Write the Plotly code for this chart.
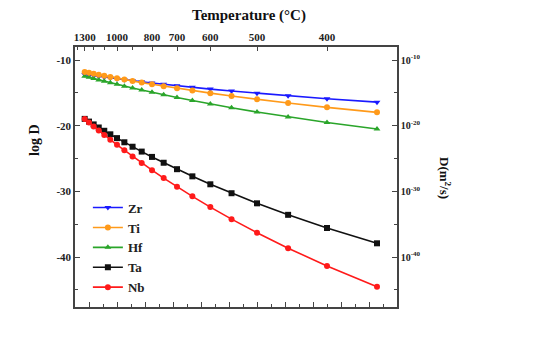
import plotly.graph_objects as go

# Annealing temperatures (°C), one point per 50 °C step
temps_c = [1300, 1250, 1200, 1150, 1100, 1050, 1000, 950, 900, 850,
           800, 750, 700, 650, 600, 550, 500, 450, 400, 350]

# log10 of diffusion coefficient D (m^2/s) for each element
zr = [-12.20, -12.29, -12.39, -12.49, -12.60, -12.72, -12.85, -12.99, -13.14, -13.30,
      -13.48, -13.68, -13.90, -14.14, -14.41, -14.71, -15.05, -15.43, -15.88, -16.40]
ti = [-11.80, -11.93, -12.07, -12.23, -12.39, -12.56, -12.75, -12.95, -13.18, -13.42,
      -13.68, -13.97, -14.29, -14.64, -15.03, -15.47, -15.97, -16.54, -17.19, -17.95]
hf = [-12.45, -12.62, -12.81, -13.01, -13.22, -13.45, -13.69, -13.96, -14.25, -14.56,
      -14.91, -15.29, -15.70, -16.16, -16.68, -17.26, -17.91, -18.65, -19.50, -20.49]
ta = [-18.95, -19.36, -19.79, -20.26, -20.76, -21.30, -21.88, -22.51, -23.19, -23.93,
      -24.74, -25.63, -26.61, -27.70, -28.91, -30.27, -31.81, -33.56, -35.57, -37.90]
nb = [-18.95, -19.50, -20.09, -20.72, -21.39, -22.12, -22.90, -23.74, -24.66, -25.66,
      -26.76, -27.96, -29.28, -30.75, -32.38, -34.22, -36.29, -38.64, -41.35, -44.50]

# Top axis: labeled temperature ticks and unlabeled in-between ticks (°C)
top_temps = [1300, 1000, 800, 700, 600, 500, 400]
top_labels = ["1300", "1000", "800", "700", "600", "500", "400"]
top_minor_temps = [1400, 1200, 1100, 900]

# Right axis: D in m^2/s at the same positions as log D
right_vals = [-10, -20, -30, -40]
right_labels = ["10<sup>-10</sup>", "10<sup>-20</sup>", "10<sup>-30</sup>", "10<sup>-40</sup>"]

# name, values, colour, marker, axes pair (the twin axes share identical ranges)
series = [
    ("Zr", zr, "#1a1aff", "triangle-down", ("x", "y")),
    ("Ti", ti, "#ff9a1a", "circle", ("x2", "y2")),
    ("Hf", hf, "#2aa52a", "triangle-up", ("x", "y")),
    ("Ta", ta, "#111111", "square", ("x", "y")),
    ("Nb", nb, "#ff1a1a", "circle", ("x", "y")),
]

x_inv = [10000.0 / t for t in temps_c]

FONT = "Liberation Serif"
AX = "#444444"

fig = go.Figure()
for name, vals, color, sym, (xa, ya) in series:
    fig.add_trace(go.Scatter(
        x=x_inv, y=vals, name=name, mode="lines+markers",
        xaxis=xa, yaxis=ya,
        line=dict(color=color, width=1.6),
        marker=dict(symbol=sym, size=6, color=color),
    ))

xr = [7, 30]
yr = [-47.6, -8.0]

fig.update_layout(
    width=536, height=344,
    margin=dict(l=75, r=139, t=47, b=37),
    paper_bgcolor="white", plot_bgcolor="white",
    font=dict(family=FONT, color="#111111"),
    showlegend=True,
    legend=dict(
        x=0.04, y=0.44, xanchor="left", yanchor="top",
        bgcolor="rgba(0,0,0,0)", borderwidth=0,
        font=dict(family=FONT, size=13, color="#222222", weight="bold"),
        itemwidth=30, tracegroupgap=0,
    ),
    xaxis=dict(
        range=xr, showgrid=False, zeroline=False,
        showline=True, linecolor=AX, linewidth=1.5,
        ticks="inside", ticklen=5, tickcolor=AX, dtick=2, tick0=0,
        showticklabels=False,
        minor=dict(ticks="inside", ticklen=3, dtick=1, tickcolor=AX),
    ),
    xaxis2=dict(
        range=xr, overlaying="x", side="top", anchor="y",
        showgrid=False, zeroline=False,
        showline=True, linecolor=AX, linewidth=1.5,
        ticks="inside", ticklen=4, tickcolor=AX,
        tickmode="array",
        tickvals=[10000.0 / t for t in top_temps],
        ticktext=top_labels,
        tickfont=dict(family=FONT, size=11, color="#222222", weight="bold"),
        minor=dict(ticks="inside", ticklen=3, tickcolor=AX, tickmode="array",
                   tickvals=[10000.0 / t for t in top_minor_temps]),
    ),
    yaxis=dict(
        range=yr, showgrid=False, zeroline=False,
        showline=True, linecolor=AX, linewidth=1.5,
        ticks="inside", ticklen=5, tickcolor=AX,
        tickmode="array", tickvals=[-10, -20, -30, -40],
        ticktext=["-10", "-20", "-30", "-40"],
        tickfont=dict(family=FONT, size=11, color="#222222", weight="bold"),
        minor=dict(ticks="inside", ticklen=3, tickcolor=AX,
                   tickmode="array", tickvals=[-15, -25, -35, -45]),
    ),
    yaxis2=dict(
        range=yr, overlaying="y", side="right", anchor="x",
        showgrid=False, zeroline=False,
        showline=True, linecolor=AX, linewidth=1.5,
        ticks="inside", ticklen=5, tickcolor=AX,
        tickmode="array", tickvals=right_vals, ticktext=right_labels,
        tickfont=dict(family=FONT, size=10, color="#222222", weight="bold"),
        minor=dict(ticks="inside", ticklen=3, tickcolor=AX,
                   tickmode="array", tickvals=[-15, -25, -35, -45]),
    ),
)

# Axis titles placed by pixel position, converted to paper coordinates
pw = 536 - 75 - 139
ph = 344 - 47 - 37


def px_to_paper(px, py):
    return (px - 75) / pw, (344 - 37 - py) / ph


titles = [
    ("<b>Temperature (°C)</b>", 249, 15, 0, 15),
    ("<b>log D</b>", 34, 140, -90, 14),
    ("<b>D(m<sup>2</sup>/s)</b>", 445, 178, 90, 13),
]
for text, px, py, ang, size in titles:
    ax_, ay_ = px_to_paper(px, py)
    fig.add_annotation(text=text, x=ax_, y=ay_, xref="paper", yref="paper",
                       xanchor="center", yanchor="middle", textangle=ang,
                       showarrow=False,
                       font=dict(family=FONT, size=size, color="#111111"))

fig.write_html("out.html")
